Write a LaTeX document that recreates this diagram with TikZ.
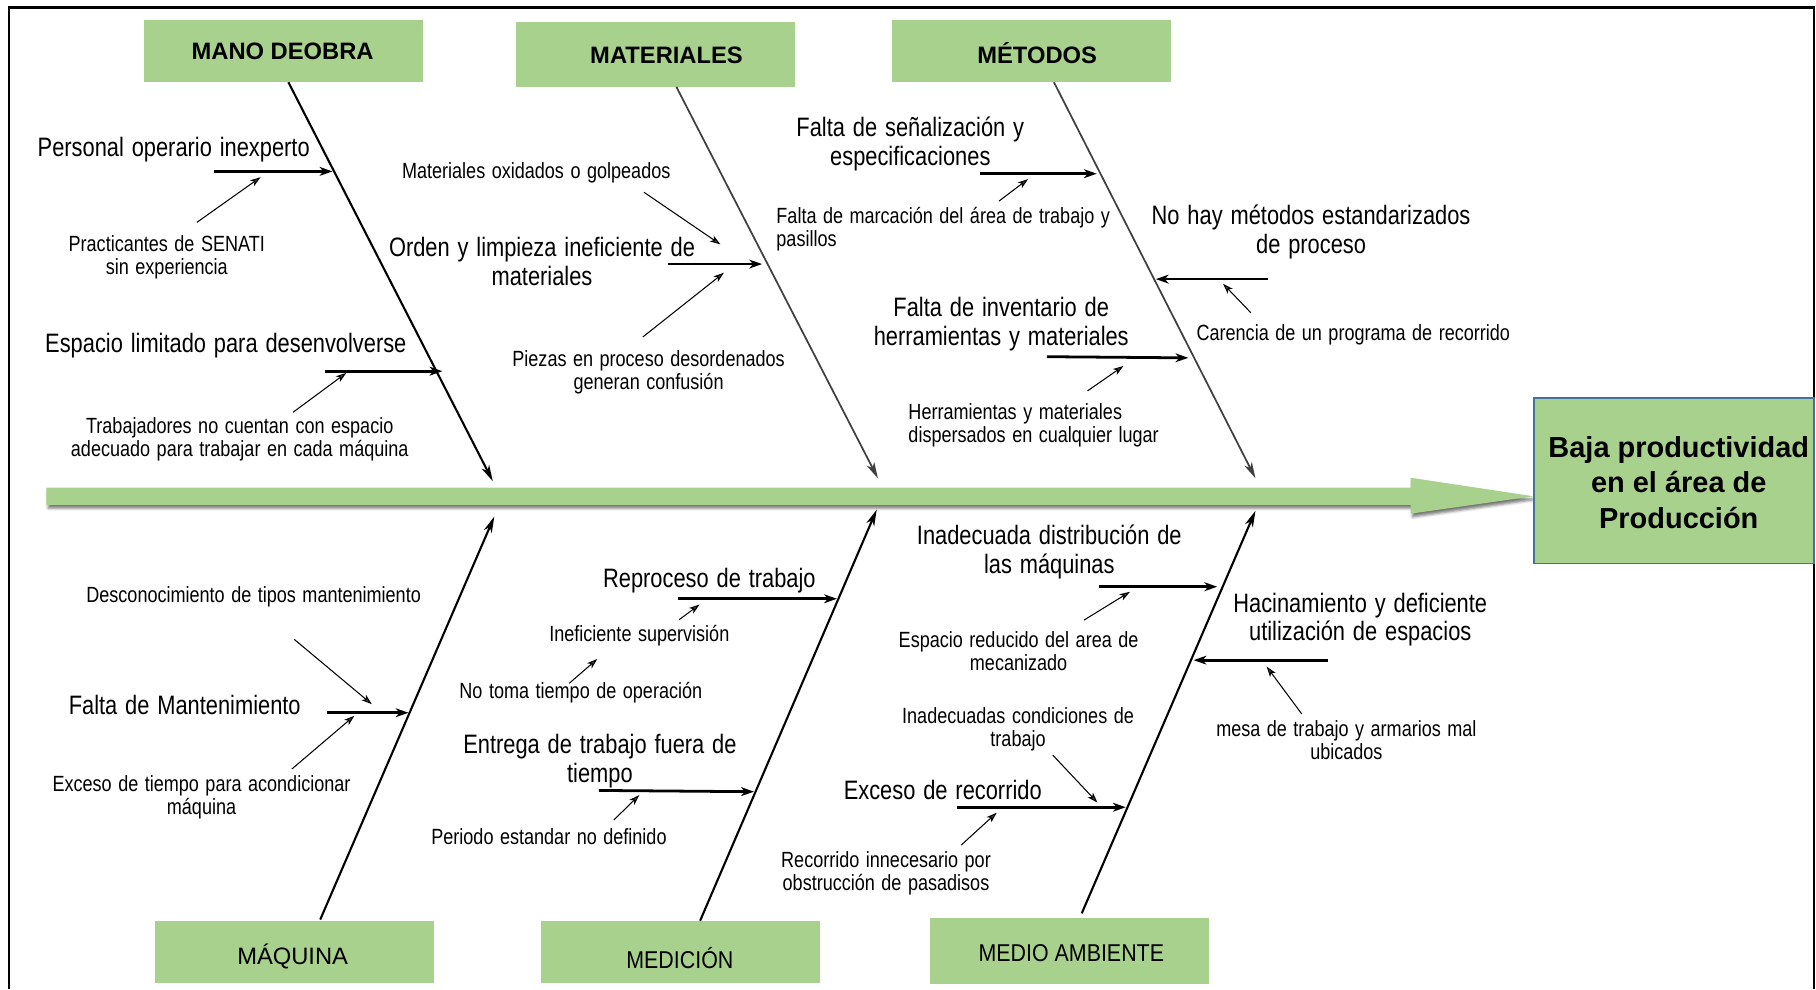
\documentclass[tikz,border=0pt]{standalone}
\usepackage{fontspec}
\setmainfont{Liberation Sans}
\newfontfamily\narrowsans{Liberation Sans}[FakeStretch=0.82, WordSpace=1.3]
\newfontfamily\semisans{Liberation Sans}[FakeStretch=0.88]
\usetikzlibrary{arrows.meta,shadows.blur}

\definecolor{boxgreen}{RGB}{169,209,142}
\definecolor{boxedge}{RGB}{65,113,156}
\definecolor{bonegray}{RGB}{64,64,64}

\begin{document}
\begin{tikzpicture}[x=0.5pt,y=-0.5pt,
  catbox/.style={fill=boxgreen, minimum width=120.5pt, minimum height=26.8pt, inner sep=0pt},
  cattop/.style={font=\bfseries\fontsize{10.25}{12}\selectfont, inner sep=0pt},
  catlow/.style={font=\fontsize{10.25}{12}\selectfont, inner sep=0pt},
  catlownarrow/.style={font=\semisans\fontsize{10.5}{12}\selectfont, inner sep=0pt},
  big/.style={font=\narrowsans\fontsize{11.5}{12.5}\selectfont, align=center, inner sep=0pt},
  small/.style={font=\narrowsans\fontsize{9.5}{10}\selectfont, align=center, inner sep=0pt},
  bone/.style={line width=0.9pt, -{Stealth[length=7pt,width=3.6pt,inset=2pt]}},
  graybone/.style={bone, draw=bonegray, line width=0.75pt},
  cause/.style={line width=1.2pt, -{Stealth[length=5.5pt,width=3.8pt,inset=1.6pt]}},
  sub/.style={line width=0.45pt, -{Stealth[length=4.5pt,width=3pt,inset=1.2pt]}}
]
\useasboundingbox (0,0) rectangle (1568,854);

% outer frame (open at the bottom)
\draw[line width=1pt] (7.5,854) -- (7.5,6.5) -- (1566.5,6.5) -- (1566.5,854);

% spine arrow with soft shadow
\fill[boxgreen, blur shadow={shadow xshift=0.8pt, shadow yshift=-1.4pt, shadow blur radius=1.2pt, shadow opacity=55}]
  (40,421) -- (1218,421) -- (1218,412.5) -- (1324,428.5) -- (1218,443.5) -- (1218,436) -- (40,436) -- cycle;

% effect box
\node[draw=boxedge, line width=0.75pt, fill=boxgreen, minimum width=121pt, minimum height=71.5pt,
      inner sep=0pt] (baja) at (1445.5,415) {};
\node[align=center, font=\bfseries\fontsize{12.5}{15.25}\selectfont, inner sep=0pt]
  (bajatext) at (1449.5,416.5) {Baja productividad\\en el área de\\Producción};

% category boxes
\node[catbox] (bMano) at (244.5,44) {};
\node[cattop] (tMano) at (244,44.6) {MANO DEOBRA};
\node[catbox, minimum height=27.9pt] (bMat) at (566,47) {};
\node[cattop] (tMat) at (575.5,48) {MATERIALES};
\node[catbox] (bMet) at (890.5,44) {};
\node[cattop] (tMet) at (895.5,46) {MÉTODOS};
\node[catbox] (bMaq) at (254.3,822) {};
\node[catlow] (tMaq) at (252.7,826) {MÁQUINA};
\node[catbox] (bMed) at (587.3,822) {};
\node[catlownarrow] (tMed) at (587,827) {MEDICIÓN};
\node[catbox, minimum height=28.6pt] (bAmb) at (923.5,821) {};
\node[catlownarrow] (tAmb) at (925,822.6) {MEDIO AMBIENTE};

% bone end points
\coordinate (mo1) at (249,71);      \coordinate (mo2) at (425.5,415.5);
\coordinate (ma1) at (584,75);      \coordinate (ma2) at (758,413);
\coordinate (me1) at (910,71);      \coordinate (me2) at (1084,413);
\coordinate (mq1) at (276.5,794);   \coordinate (mq2) at (426.8,446);
\coordinate (md1) at (604.5,795);   \coordinate (md2) at (757,440);
\coordinate (am1) at (934,788.6);   \coordinate (am2) at (1084,441);

\draw[bone] (mo1) -- (mo2);
\draw[graybone] (ma1) -- (ma2);
\draw[graybone] (me1) -- (me2);
\draw[bone] (mq1) -- (mq2);
\draw[bone] (md1) -- (md2);
\draw[bone] (am1) -- (am2);

% ---- MANO DE OBRA ----
\node[big] (t1) at (150,129) {Personal operario inexperto};
\node[small] (t13) at (144,222.5) {Practicantes de SENATI\\sin experiencia};
\node[big] (t2) at (195,298) {Espacio limitado para desenvolverse};
\node[small] (t14) at (207,379) {Trabajadores no cuentan con espacio\\adecuado para trabajar en cada máquina};
\coordinate (h1a) at (185,148);   \coordinate (h1b) at (287,148);
\coordinate (h2a) at (281,320.5); \coordinate (h2b) at (382,320.5);
\coordinate (s1a) at (170,192);   \coordinate (s1b) at (225,153);
\coordinate (s2a) at (253,356);   \coordinate (s2b) at (299,322);
\draw[cause] (h1a) -- (h1b);
\draw[cause] (h2a) -- (h2b);
\draw[sub] (s1a) -- (s1b);
\draw[sub] (s2a) -- (s2b);

% ---- MATERIALES ----
\node[small] (t15) at (463,149) {Materiales oxidados o golpeados};
\node[big] (t3) at (468,225.5) {Orden y limpieza ineficiente de\\materiales};
\node[small] (t16) at (560,321.5) {Piezas en proceso desordenados\\generan confusión};
\coordinate (h3a) at (577,228);   \coordinate (h3b) at (658,228);
\coordinate (s3a) at (556,166);   \coordinate (s3b) at (622,211);
\coordinate (s4a) at (555,291);   \coordinate (s4b) at (625,235.5);
\draw[cause] (h3a) -- (h3b);
\draw[sub] (s3a) -- (s3b);
\draw[sub] (s4a) -- (s4b);

% ---- METODOS ----
\node[big] (t4) at (786,124.5) {Falta de señalización y\\especificaciones};
\node[small, align=left, anchor=west] (t17) at (670,198) {Falta de marcación del área de trabajo y\\pasillos};
\node[big] (t5) at (1132,200) {No hay métodos estandarizados\\de proceso};
\node[small] (t18) at (1168.5,289) {Carencia de un programa de recorrido};
\node[big] (t6) at (864.5,280) {Falta de inventario de\\herramientas y materiales};
\node[small, align=left, anchor=west] (t19) at (784,367) {Herramientas y materiales\\dispersados en cualquier lugar};
\coordinate (h4a) at (846,150);   \coordinate (h4b) at (947,150);
\coordinate (h5a) at (1095,241);  \coordinate (h5b) at (998,241);
\coordinate (h6a) at (904,308);   \coordinate (h6b) at (1026,309);
\coordinate (s5a) at (862.6,173.6); \coordinate (s5b) at (887.7,154.6);
\coordinate (s6a) at (1080,270);  \coordinate (s6b) at (1056,245);
\coordinate (s7a) at (939,337.5); \coordinate (s7b) at (970,316);
\draw[cause] (h4a) -- (h4b);
\draw[cause] (h5a) -- (h5b);
\draw[cause] (h6a) -- (h6b);
\draw[sub] (s5a) -- (s5b);
\draw[sub] (s6a) -- (s6b);
\draw[sub] (s7a) -- (s7b);

% ---- MAQUINA ----
\node[small] (t20) at (219,515.5) {Desconocimiento de tipos mantenimiento};
\node[big] (t7) at (159.5,609) {Falta de Mantenimiento};
\node[small] (t21) at (174,688.5) {Exceso de tiempo para acondicionar\\máquina};
\coordinate (h7a) at (282.5,615.4); \coordinate (h7b) at (352.7,615.4);
\coordinate (s8a) at (254,552);   \coordinate (s8b) at (321,608);
\coordinate (s9a) at (252,664);   \coordinate (s9b) at (306,618);
\draw[cause] (h7a) -- (h7b);
\draw[sub] (s8a) -- (s8b);
\draw[sub] (s9a) -- (s9b);

% ---- MEDICION ----
\node[big] (t8) at (612.5,501) {Reproceso de trabajo};
\node[small] (t22) at (552,549) {Ineficiente supervisión};
\node[small] (t23) at (501.5,598) {No toma tiempo de operación};
\node[big] (t9) at (518,657) {Entrega de trabajo fuera de\\tiempo};
\node[small] (t24) at (474,722.6) {Periodo estandar no definido};
\coordinate (h8a) at (585.6,517); \coordinate (h8b) at (722.6,517);
\coordinate (h9a) at (517,682.5); \coordinate (h9b) at (651,683.6);
\coordinate (s10a) at (586.5,535); \coordinate (s10b) at (604,522);
\coordinate (s11a) at (491.5,590); \coordinate (s11b) at (515.7,569);
\coordinate (s12a) at (530,708);   \coordinate (s12b) at (552,686.5);
\draw[cause] (h8a) -- (h8b);
\draw[cause] (h9a) -- (h9b);
\draw[sub] (s10a) -- (s10b);
\draw[sub] (s11a) -- (s11b);
\draw[sub] (s12a) -- (s12b);

% ---- MEDIO AMBIENTE ----
\node[big] (t10) at (906,476.5) {Inadecuada distribución de\\las máquinas};
\node[small] (t25) at (879.5,562.5) {Espacio reducido del area de\\mecanizado};
\node[small] (t26) at (879,629.5) {Inadecuadas condiciones de\\trabajo};
\node[big] (t11) at (814,682) {Exceso de recorrido};
\node[small] (t27) at (765,754) {Recorrido innecesario por\\obstrucción de pasadisos};
\node[big] (t12) at (1174.5,535) {Hacinamiento y deficiente\\utilización de espacios};
\node[small] (t28) at (1162.5,639) {mesa de trabajo y armarios mal\\ubicados};
\coordinate (h10a) at (949,506.6);  \coordinate (h10b) at (1051,506.6);
\coordinate (h11a) at (1146.6,570); \coordinate (h11b) at (1030.6,570);
\coordinate (h12a) at (826,697);    \coordinate (h12b) at (972,697);
\coordinate (s13a) at (936,535.4);  \coordinate (s13b) at (975.6,511);
\coordinate (s14a) at (909,652);    \coordinate (s14b) at (947.6,693);
\coordinate (s15a) at (830,729.6);  \coordinate (s15b) at (860.6,701.7);
\coordinate (s16a) at (1124,616.5); \coordinate (s16b) at (1093.7,575.6);
\draw[cause] (h10a) -- (h10b);
\draw[cause] (h11a) -- (h11b);
\draw[cause] (h12a) -- (h12b);
\draw[sub] (s13a) -- (s13b);
\draw[sub] (s14a) -- (s14b);
\draw[sub] (s15a) -- (s15b);
\draw[sub] (s16a) -- (s16b);

\end{tikzpicture}
\end{document}
